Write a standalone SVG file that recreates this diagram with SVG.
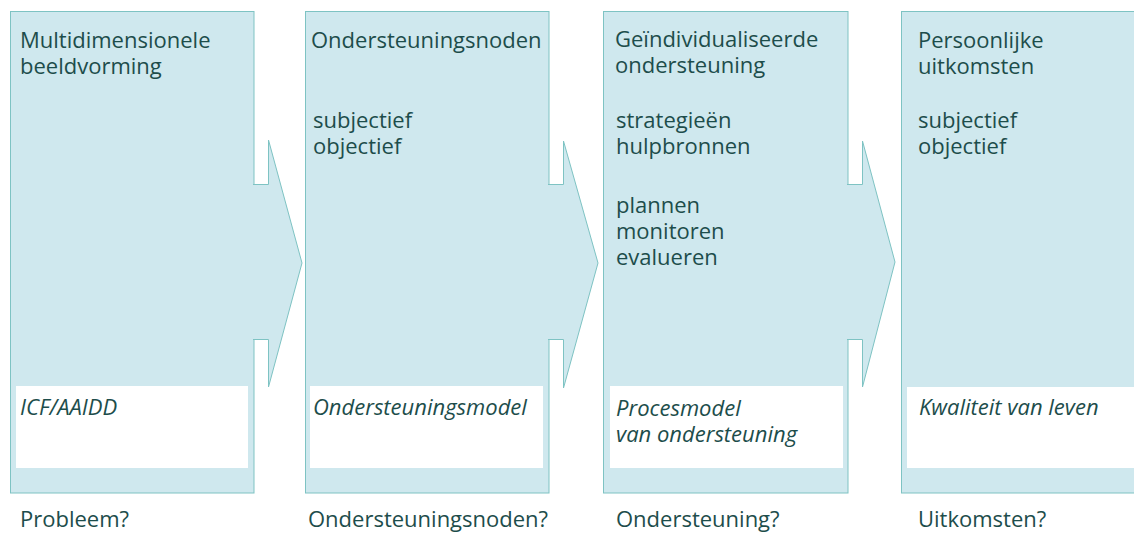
<svg xmlns="http://www.w3.org/2000/svg" width="1134" height="533" viewBox="0 0 1134 533">
<style>
.box{fill:#cfe8ee;stroke:#7ec3c3;stroke-width:1}
.inner{fill:#ffffff}
.arrow{fill:#cfe8ee;stroke:#7ec3c3;stroke-width:1;stroke-linejoin:miter}
text{font-family:"Open Sans","Noto Sans","DejaVu Sans",sans-serif;font-size:22px;fill:#1d4d4b}
.it{font-style:italic}
</style>
<rect width="1134" height="533" fill="#ffffff"/>
<g id="node1">
<rect class="box" x="10.5" y="11.5" width="243.5" height="481.5"/>
<rect class="inner" x="16" y="386" width="232" height="82"/>
<text x="20" y="48">Multidimensionele<tspan x="20" y="74">beeldvorming</tspan></text>
<text class="it" x="20" y="415">ICF/AAIDD</text>
<text x="20" y="527">Probleem?</text>
</g>
<g id="node2">
<rect class="box" x="305.5" y="11.5" width="243.5" height="481.5"/>
<rect class="inner" x="310" y="386" width="233" height="82"/>
<text x="311" y="48">Ondersteuningsnoden</text>
<text x="313" y="128">subjectief<tspan x="313" y="154">objectief</tspan></text>
<text class="it" x="313" y="415">Ondersteuningsmodel</text>
<text x="308" y="527">Ondersteuningsnoden?</text>
</g>
<g id="node3">
<rect class="box" x="603.5" y="11.5" width="244.5" height="481.5"/>
<rect class="inner" x="610" y="386" width="233" height="82"/>
<text x="615" y="47">Geïndividualiseerde<tspan x="615" y="73">ondersteuning</tspan></text>
<text x="616" y="128">strategieën<tspan x="616" y="154">hulpbronnen</tspan></text>
<text x="616" y="213">plannen<tspan x="616" y="239">monitoren</tspan><tspan x="616" y="265">evalueren</tspan></text>
<text class="it" x="616" y="416">Procesmodel<tspan x="616" y="442">van ondersteuning</tspan></text>
<text x="616" y="527">Ondersteuning?</text>
</g>
<g id="node4">
<rect class="box" x="901.5" y="11.5" width="240" height="481.5"/>
<rect class="inner" x="907" y="387" width="230" height="81"/>
<text x="918" y="48">Persoonlijke<tspan x="918" y="74">uitkomsten</tspan></text>
<text x="918" y="128">subjectief<tspan x="918" y="154">objectief</tspan></text>
<text class="it" x="919" y="415">Kwaliteit van leven</text>
<text x="918" y="527">Uitkomsten?</text>
</g>
<g id="connectors">
<path class="arrow" d="M253,184.5 H268.5 V140 L302,263 L268.5,387 V339.5 H253"/>
<path class="arrow" d="M548,184.5 H563.5 V141 L598,263 L563.5,388 V339.5 H548"/>
<path class="arrow" d="M847,184.5 H862.5 V141 L895,262 L862.5,387 V339.5 H847"/>
</g>
</svg>
